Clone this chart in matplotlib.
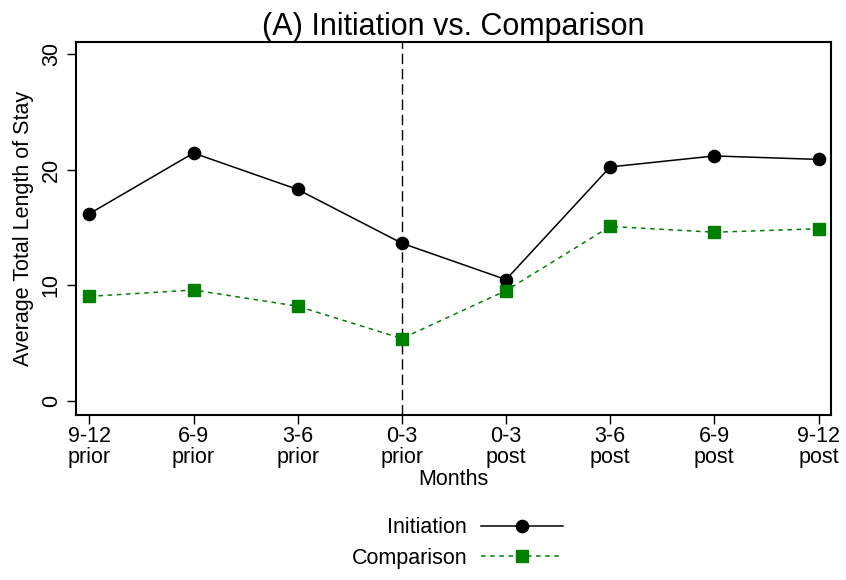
import matplotlib
matplotlib.use("Agg")
import matplotlib.pyplot as plt
from matplotlib.ticker import FixedLocator

plt.rcParams['font.family'] = ['Liberation Sans', 'DejaVu Sans']

months = ["9-12\nprior", "6-9\nprior", "3-6\nprior", "0-3\nprior",
          "0-3\npost", "3-6\npost", "6-9\npost", "9-12\npost"]
initiation = [16.2, 21.45, 18.3, 13.65, 10.5, 20.25, 21.2, 20.9]
comparison = [9.05, 9.6, 8.2, 5.4, 9.55, 15.1, 14.6, 14.9]
yticks = [0, 10, 20, 30]
title = "(A) Initiation vs. Comparison"

W, H = 846, 580
fig = plt.figure(figsize=(W / 100, H / 100), dpi=100)
left, right, top, bottom = 76, 831, 42, 414.7
ax = fig.add_axes([left / W, 1 - bottom / H, (right - left) / W, (bottom - top) / H])

x = list(range(len(months)))
FS = 15.5
GREEN = "#008000"

ax.axvline(3, color="black", lw=1.0, dashes=(7.5, 3.5), zorder=1)
l1, = ax.plot(x, initiation, color="black", lw=1.1, marker="o", markersize=8.8,
              label="Initiation", zorder=3)
l2, = ax.plot(x, comparison, color=GREEN, lw=1.1, dashes=(3, 3), marker="s",
              markersize=8.2, markerfacecolor=GREEN, markeredgecolor=GREEN,
              label="Comparison", zorder=3)

ax.set_xlim(-0.128, 7.12)
ax.set_ylim(-1.19, 31.06)
ax.xaxis.set_major_locator(FixedLocator(x))
ax.set_xticklabels(months, fontsize=FS, linespacing=0.98)
ax.yaxis.set_major_locator(FixedLocator(yticks))
ax.set_yticklabels([str(v) for v in yticks], fontsize=FS, rotation=90, va="center")
ax.tick_params(axis="both", direction="out", length=6.2, width=1.0, color="black")
ax.tick_params(axis="x", pad=2)
ax.tick_params(axis="y", pad=4)
for s in ax.spines.values():
    s.set_linewidth(1.5)

ax.set_xlabel("Months", fontsize=FS, labelpad=1)
ax.set_ylabel("Average Total Length of Stay", fontsize=FS, labelpad=5)
ax.set_title(title, fontsize=22, pad=4)

leg = fig.legend(handles=[l1, l2], loc="center", bbox_to_anchor=(457 / W, 1 - 543 / H),
                 frameon=False, fontsize=FS, markerfirst=False, numpoints=1,
                 handlelength=3.77, handletextpad=0.67, labelspacing=0.45)

fig.savefig("out.png", dpi=100, facecolor="white")
